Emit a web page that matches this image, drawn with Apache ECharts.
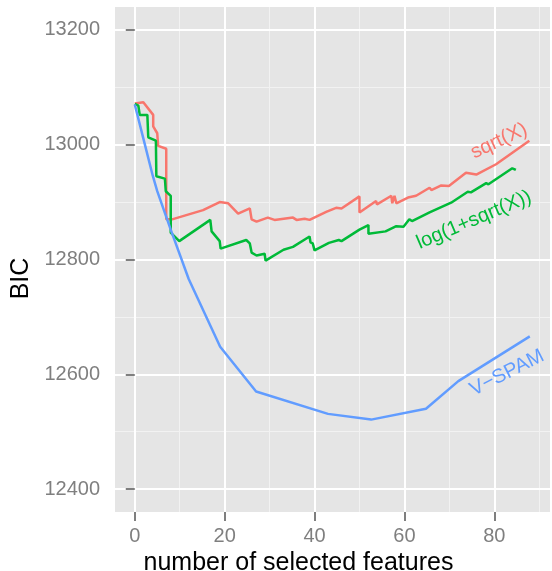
<!DOCTYPE html>
<html>
<head>
<meta charset="utf-8">
<script src="https://cdn.jsdelivr.net/npm/echarts@6/dist/echarts.min.js"></script>
<style>
html,body{margin:0;padding:0;background:#fff;}
#chart{width:552px;height:571px;}
</style>
</head>
<body>
<div id="chart"></div>
<script>
// ---- data ----
var xTicks = [0, 20, 40, 60, 80];
var xMinorTicks = [10, 30, 50, 70, 90];
var yTicks = [12400, 12600, 12800, 13000, 13200];
var yMinorTicks = [12500, 12700, 12900, 13100];

var featSqrt = [0,1.9,4.1,4.1,5,5.2,7,7,8.3,15.2,18.9,20.8,23,25.6,26,27.1,29.6,31.1,35.2,36,37.8,38.9,42.6,44.8,46,50,50,53.7,53.9,57.1,57.3,57.8,58.2,60.8,62.6,65.6,66,68.2,69.9,73.7,76,80.4,87.8];
var bicSqrt  = [13072,13074,13052,13032,13020,12998,12993,12870,12870,12886,12900,12898,12880,12889,12870,12866,12873,12869,12873,12869,12871,12869,12883,12890,12889,12910,12882,12902,12896,12911,12898,12911,12898,12908,12911,12925,12921,12929,12928,12951,12948,12966,13007];

var featLog = [0,0.8,1.1,2.8,3,4.7,4.8,6.7,6.9,8,8,9.9,16.8,17.1,18.9,19.1,24.8,25.6,26,27.1,28.9,29.1,33.1,35.2,38.9,39.1,39.6,40,43.2,45.4,46,50,52,52,55.8,58.2,59.8,61.1,61.7,65.6,66,70.4,74.1,74.8,78.2,78.7,84,84.8];
var bicLog  = [13071,13068,13052,13052,13013,13007,12945,12941,12919,12911,12847,12832,12869,12849,12832,12819,12834,12828,12812,12807,12810,12798,12817,12822,12840,12830,12828,12816,12829,12834,12832,12852,12860,12845,12849,12858,12857,12870,12867,12882,12880,12899,12918,12917,12933,12931,12959,12956];

var featSpam = [0,2,4,5,8,12,19,27,43,52.6,64.8,72,87.9];
var bicSpam  = [13070,13008,12946,12919,12852,12766,12648,12570,12531,12521,12540,12588,12666];

var seriesNames = ['sqrt(X)', 'log(1+sqrt(X))', 'V\u2212SPAM'];
var seriesColors = ['#F8766D', '#00BA38', '#619CFF'];

function zip(a, b) { return a.map(function (v, i) { return [v, b[i]]; }); }
function plain(v) { return String(v); }

var FONT = '"Liberation Sans", Helvetica, Arial, sans-serif';
var chart = echarts.init(document.getElementById('chart'), null, {renderer: 'canvas'});

function lineSeries(i, data) {
  return {
    type: 'line', name: seriesNames[i], data: data,
    xAxisIndex: 0, yAxisIndex: 0,
    showSymbol: false, symbol: 'none', smooth: false, animation: false,
    lineStyle: {color: seriesColors[i], width: 2.5},
    itemStyle: {color: seriesColors[i]}, z: 3
  };
}

var option = {
  animation: false,
  backgroundColor: '#ffffff',
  grid: {left: 115, right: 2, top: 7, bottom: 59, show: true, backgroundColor: '#E5E5E5', borderWidth: 0,
         containLabel: false, outerBoundsMode: 'none'},
  xAxis: [
    {
      type: 'value', min: -4.4, max: 92.4, z: 2,
      name: 'number of selected features', nameLocation: 'middle', nameGap: 30,
      nameTextStyle: {color: '#000', fontSize: 25, fontFamily: FONT, padding: [0, 68, 0, 0]},
      axisLine: {show: false},
      axisTick: {show: true, length: 9, customValues: xTicks, lineStyle: {color: '#7F7F7F', width: 2}},
      axisLabel: {show: true, customValues: xTicks, formatter: plain, color: '#7F7F7F', fontSize: 20, fontFamily: FONT, margin: 14},
      splitLine: {show: true, lineStyle: {color: '#FFFFFF', width: 2}}
    },
    {
      type: 'value', min: -4.4, max: 92.4, z: 1, position: 'bottom',
      axisLine: {show: false},
      axisTick: {show: false, customValues: xMinorTicks},
      axisLabel: {show: false, customValues: xMinorTicks},
      splitLine: {show: true, lineStyle: {color: '#F2F2F2', width: 1}}
    }
  ],
  yAxis: [
    {
      type: 'value', min: 12360, max: 13240, z: 2,
      name: 'BIC', nameLocation: 'middle', nameGap: 76, nameRotate: 90,
      nameTextStyle: {color: '#000', fontSize: 25, fontFamily: FONT, padding: [0, 38, 0, 0]},
      axisLine: {show: false},
      axisTick: {show: true, length: 9, customValues: yTicks, lineStyle: {color: '#7F7F7F', width: 2}},
      axisLabel: {show: true, customValues: yTicks, formatter: plain, color: '#7F7F7F', fontSize: 20, fontFamily: FONT, margin: 15},
      splitLine: {show: true, lineStyle: {color: '#FFFFFF', width: 2}}
    },
    {
      type: 'value', min: 12360, max: 13240, z: 1, position: 'left',
      axisLine: {show: false},
      axisTick: {show: false, customValues: yMinorTicks},
      axisLabel: {show: false, customValues: yMinorTicks},
      splitLine: {show: true, lineStyle: {color: '#F2F2F2', width: 1}}
    }
  ],
  series: [
    lineSeries(0, zip(featSqrt, bicSqrt)),
    lineSeries(1, zip(featLog, bicLog)),
    lineSeries(2, zip(featSpam, bicSpam))
  ],
  graphic: [
    {type: 'text', x: 499, y: 141, rotation: 25 * Math.PI / 180, z: 10,
     style: {text: seriesNames[0], fill: seriesColors[0], font: '20px ' + FONT, align: 'center', verticalAlign: 'middle'}},
    {type: 'text', x: 474, y: 220, rotation: 23 * Math.PI / 180, z: 10,
     style: {text: seriesNames[1], fill: seriesColors[1], font: '20px ' + FONT, align: 'center', verticalAlign: 'middle'}},
    {type: 'text', x: 507, y: 373, rotation: 27 * Math.PI / 180, z: 10,
     style: {text: seriesNames[2], fill: seriesColors[2], font: '20px ' + FONT, align: 'center', verticalAlign: 'middle'}}
  ]
};
chart.setOption(option);
</script>
</body>
</html>
